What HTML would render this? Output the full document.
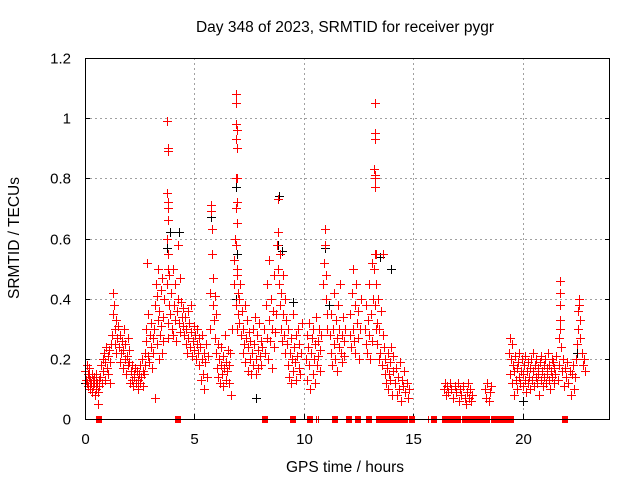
<!DOCTYPE html>
<html><head><meta charset="utf-8"><style>
html,body{margin:0;padding:0;background:#fff;}
svg{display:block;font-family:"Liberation Sans",sans-serif;}
</style></head><body>
<svg id="chart" width="640" height="480" viewBox="0 0 640 480" xmlns="http://www.w3.org/2000/svg" shape-rendering="crispEdges">
<rect x="0" y="0" width="640" height="480" fill="#fff"/>
<text x="345" y="32" font-size="15.5" text-anchor="middle" fill="#000">Day 348 of 2023, SRMTID for receiver pygr</text>
<g id="grid"></g>
<g id="ticks"></g>
<g id="blackpts"></g>
<g id="redpts"></g>
<g id="squares"></g>
<rect x="85.5" y="58.5" width="524" height="361" fill="none" stroke="#000" stroke-width="1"/>
<text x="345" y="472" font-size="15.5" text-anchor="middle" fill="#000">GPS time / hours</text>
<text x="19" y="238" font-size="15.5" text-anchor="middle" fill="#000" transform="rotate(-90 19 238)">SRMTID / TECUs</text>
</svg>
<script>
const xTicks=[0,5,10,15,20];
const yTicks=[0,0.2,0.4,0.6,0.8,1,1.2];
const yTickLabels=["0","0.2","0.4","0.6","0.8","1","1.2"];
const redPts=[[0.02,.16],[0.05,.13],[0.08,.18],[0.1,.12],[0.13,.15],[0.15,.11],[0.18,.14],[0.2,.17],[0.22,.1],[0.25,.13],[0.28,.12],[0.3,.15],[0.32,.09],[0.35,.13],[0.38,.11],[0.4,.14],[0.42,.12],[0.45,.08],[0.48,.13],[0.5,.1],[0.52,.15],[0.55,.12],[0.58,.09],[0.6,.05],[0.62,.13],[0.65,.11],
[0.7,.14],[0.73,.18],[0.76,.12],[0.8,.2],[0.83,.16],[0.86,.22],[0.9,.13],[0.93,.19],[0.96,.24],[1.0,.17],[1.03,.21],[1.06,.15],[1.1,.23],[1.13,.19],[1.16,.12],[1.2,.25],
[1.25,.28],[1.28,.35],[1.3,.42],[1.32,.38],[1.35,.3],[1.38,.25],[1.4,.33],[1.43,.22],[1.46,.27],[1.5,.31],
[1.55,.24],[1.58,.19],[1.62,.28],[1.65,.22],[1.68,.26],[1.72,.17],[1.75,.23],[1.78,.3],[1.82,.2],[1.85,.25],[1.88,.15],[1.92,.21],[1.95,.27],[1.98,.18],[2.0,.23],
[2.03,.19],[2.06,.12],[2.1,.16],[2.13,.13],[2.16,.18],[2.2,.11],[2.23,.15],[2.26,.14],[2.3,.17],[2.33,.12],[2.36,.16],[2.4,.13],[2.43,.1],[2.46,.15],[2.5,.18],[2.53,.12],[2.56,.14],[2.6,.2],[2.63,.16],[2.66,.11],[2.7,.15],
[2.72,.22],[2.75,.18],[2.78,.3],[2.8,.26],[2.83,.52],[2.86,.21],[2.9,.35],[2.93,.19],[2.96,.28],[3.0,.24],[3.03,.32],[3.06,.17],[3.1,.27],[3.13,.22],
[3.17,.3],[3.2,.38],[3.22,.07],[3.25,.45],[3.28,.25],[3.3,.41],[3.33,.5],[3.35,.33],[3.38,.2],[3.4,.36],[3.43,.28],[3.46,.43],[3.48,.31],[3.5,.22],[3.53,.47],[3.55,.34],[3.58,.26],[3.6,.4],
[3.76,.99],[3.78,.9],[3.79,.89],[3.77,.75],[3.8,.72],[3.78,.7],[3.81,.66],[3.77,.6],[3.79,.55],[3.8,.5],[3.76,.45],[3.82,.38],[3.78,.32],[3.8,.27],
[3.86,.48],[3.9,.35],[3.93,.42],[3.96,.3],[4.0,.5],[4.03,.28],[4.06,.38],[4.1,.33],[4.13,.45],[4.16,.26],[4.2,.36],[4.23,.58],[4.26,.4],[4.3,.32],[4.33,.47],[4.36,.29],[4.4,.39],[4.43,.34],[4.46,.31],[4.5,.37],
[4.53,.28],[4.56,.34],[4.6,.25],[4.63,.3],[4.66,.22],[4.7,.36],[4.73,.27],[4.76,.32],[4.8,.24],[4.83,.29],[4.86,.38],[4.9,.21],[4.93,.26],[4.96,.31],[5.0,.23],[5.03,.28],[5.06,.2],[5.1,.25],[5.13,.3],[5.16,.22],[5.2,.27],
[5.23,.18],[5.26,.24],[5.3,.13],[5.33,.2],[5.36,.28],[5.4,.15],[5.43,.22],[5.46,.1],[5.5,.19],[5.53,.25],[5.56,.14],[5.6,.21],
[5.7,.3],[5.73,.42],[5.75,.71],[5.77,.69],[5.8,.63],[5.82,.55],[5.85,.47],[5.87,.38],[5.9,.33],[5.93,.41],[5.95,.27],[5.97,.35],
[6.0,.22],[6.03,.17],[6.06,.25],[6.1,.14],[6.13,.2],[6.16,.12],[6.2,.18],[6.23,.24],[6.26,.15],[6.3,.21],[6.33,.11],[6.36,.17],[6.4,.28],[6.43,.13],[6.46,.19],[6.5,.16],[6.53,.23],[6.56,.12],[6.6,.18],[6.63,.22],[6.66,.08],[6.7,.3],
[6.8,.45],[6.83,.53],[6.86,.6],[6.88,1.08],[6.9,1.05],[6.92,.98],[6.93,.96],[6.91,.93],[6.94,.9],[6.9,.8],[6.93,.8],[6.95,.72],[6.92,.7],[6.96,.65],[6.89,.58],[6.97,.5],[6.95,.48],[6.98,.42],[6.91,.38],[7.0,.35],[6.94,.3],
[7.03,.4],[7.06,.32],[7.1,.45],[7.13,.28],[7.16,.36],[7.2,.22],[7.23,.3],[7.26,.25],[7.3,.38],[7.33,.19],[7.36,.27],[7.4,.33],[7.43,.16],[7.46,.24],[7.5,.29],[7.53,.2],[7.56,.26],[7.6,.15],
[7.63,.22],[7.66,.3],[7.7,.18],[7.73,.25],[7.76,.34],[7.8,.2],[7.83,.15],[7.86,.28],[7.9,.23],[7.93,.17],[7.96,.32],[8.0,.21],[8.03,.26],[8.06,.18],[8.1,.24],
[8.2,.3],[8.23,.22],[8.26,.38],[8.3,.27],[8.33,.45],[8.36,.2],[8.4,.33],[8.43,.53],[8.46,.26],[8.5,.4],[8.53,.3],[8.56,.17],[8.6,.36],[8.63,.24],[8.66,.48],[8.7,.29],[8.73,.35],
[8.77,.58],[8.8,.62],[8.82,.73],[8.84,.5],[8.87,.45],[8.9,.38],[8.92,.55],[8.95,.3],[8.98,.42],[9.0,.26],[9.03,.35],[9.06,.48],[9.1,.28],[9.13,.4],[9.16,.22],[9.2,.33],
[9.23,.25],[9.26,.18],[9.3,.3],[9.33,.14],[9.36,.22],[9.4,.27],[9.43,.12],[9.46,.2],[9.5,.35],[9.53,.16],[9.56,.24],[9.6,.19],[9.63,.28],[9.66,.13],[9.7,.21],[9.73,.3],[9.76,.17],[9.8,.25],[9.83,.15],[9.86,.22],[9.9,.32],
[10.1,.2],[10.13,.28],[10.16,.13],[10.2,.24],[10.23,.18],[10.26,.32],[10.3,.1],[10.33,.22],[10.36,.27],[10.4,.15],[10.43,.3],[10.46,.2],[10.5,.25],[10.53,.12],[10.56,.34],[10.6,.18],[10.63,.26],[10.66,.21],[10.7,.3],[10.73,.16],[10.76,.23],[10.8,.28],
[10.9,.45],[10.93,.52],[10.95,.63],[10.97,.58],[11.0,.48],[11.02,.4],[11.05,.35],[11.08,.3],
[11.2,.28],[11.23,.22],[11.26,.35],[11.3,.18],[11.33,.3],[11.36,.42],[11.4,.25],[11.43,.2],[11.46,.33],[11.5,.27],[11.53,.16],[11.56,.38],[11.6,.24],[11.63,.3],[11.66,.45],[11.7,.22],[11.73,.28],[11.76,.19],[11.8,.34],[11.83,.26],[11.86,.21],[11.9,.3],
[12.1,.28],[12.13,.35],[12.16,.24],[12.2,.42],[12.23,.3],[12.26,.5],[12.3,.26],[12.33,.38],[12.36,.22],[12.4,.45],[12.43,.32],[12.46,.27],[12.5,.36],[12.53,.2],[12.56,.3],[12.6,.4],
[12.8,.3],[12.83,.25],[12.86,.38],[12.9,.22],[12.93,.33],[12.96,.28],[13.0,.45],[13.03,.2],[13.06,.35],[13.1,.52],[13.13,.26],[13.16,.4],
[13.24,1.05],[13.25,.95],[13.27,.93],[13.23,.83],[13.26,.81],[13.25,.8],[13.24,.77],[13.27,.55],[13.22,.5],[13.28,.45],[13.25,.38],[13.3,.3],[13.29,.55],
[13.33,.32],[13.36,.25],[13.4,.4],[13.43,.2],[13.46,.3],[13.5,.22],[13.53,.36],[13.56,.18],[13.6,.28],[13.63,.55],[13.66,.24],[13.7,.15],
[13.73,.2],[13.76,.12],[13.8,.17],[13.83,.22],[13.86,.1],[13.9,.15],[13.93,.19],[13.96,.13],[14.0,.24],[14.03,.08],[14.06,.16],[14.1,.21],
[14.15,.12],[14.2,.17],[14.25,.08],[14.3,.14],[14.35,.1],[14.4,.19],[14.45,.06],[14.5,.13],[14.55,.11],[14.6,.16],[14.65,.09],[14.7,.12],[14.75,.07],[14.8,.1],
[16.4,.1],[16.45,.12],[16.5,.08],[16.55,.11],[16.6,.09],[16.7,.12],[16.75,.1],[16.8,.07],[16.9,.11],[16.95,.09],[17.05,.12],[17.1,.06],[17.15,.1],[17.2,.08],[17.3,.11],[17.35,.07],[17.4,.05],[17.45,.09],[17.5,.12],[17.55,.07],[17.6,.1],[17.65,.06],[17.7,.08],[18.3,.1],[18.35,.07],[18.4,.12],[18.45,.06],[18.5,.09],[18.55,.11],
[19.4,.22],[19.42,.27],[19.45,.15],[19.48,.2],[19.5,.25],[19.53,.12],[19.56,.18],[19.6,.08],[19.63,.16],[19.66,.21],[19.7,.13],[19.73,.17],[19.76,.1],[19.8,.19],[19.83,.14],[19.86,.22],[19.9,.12],[19.93,.16],[19.96,.2],[20.0,.11],[20.03,.15],[20.06,.18],[20.1,.13],[20.13,.21],[20.16,.09],[20.2,.16],[20.23,.12],[20.26,.19],[20.3,.14],[20.33,.17],[20.36,.1],[20.4,.2],[20.43,.13],[20.46,.16],[20.5,.22],[20.53,.11],[20.56,.18],[20.6,.14],[20.63,.2],[20.66,.12],[20.7,.17],[20.73,.15],[20.76,.08],[20.8,.19],[20.83,.13],[20.86,.21],[20.9,.16],[20.93,.11],[20.96,.18],[21.0,.14],[21.03,.2],[21.06,.12],[21.1,.17],[21.13,.15],[21.16,.22],[21.2,.13],[21.23,.18],[21.26,.1],[21.3,.16],[21.33,.2],[21.36,.14],[21.4,.19],[21.43,.12],[21.46,.17],[21.5,.15],[21.55,.21],[21.6,.13],[21.65,.18],[21.7,.46],[21.71,.42],[21.72,.38],[21.7,.33],[21.73,.3],[21.68,.27],[21.75,.24],[21.8,.16],[21.85,.2],[21.9,.11],[21.95,.17],[22.0,.14],[22.05,.19],[22.1,.12],[22.15,.16],[22.2,.08],[22.25,.15],[22.3,.18],[22.35,.1],[22.4,.14],[22.45,.2],[22.5,.25],[22.52,.3],[22.55,.36],[22.57,.4],[22.6,.38],[22.62,.33],[22.65,.27],[22.7,.22],[22.75,.18],[22.8,.2],[22.85,.16]];
const blackPts=[[3.77,.57],[3.9,.62],[4.3,.62],[5.75,.67],[6.92,.77],[6.95,.55],[8.85,.74],[8.8,.58],[9.0,.56],[9.5,.39],[10.95,.57],[11.15,.38],[13.25,.55],[13.5,.54],[13.97,.5],[20.0,.06],[22.5,.22],[6.9,.4],[0.0,.12],[7.8,.07]];
const gapHours=[0.62,4.27,8.22,9.51,10.29,11.45,12.06,12.46,12.96,13.42,13.5,13.58,13.66,13.74,13.82,13.9,14.12,14.2,14.28,14.36,14.44,14.52,14.6,14.65,14.93,15.94,16.46,16.53,16.59,16.8,17.03,17.36,17.43,17.5,17.57,17.64,17.71,17.78,17.86,18.06,18.13,18.2,18.27,18.34,18.4,18.71,18.98,19.24,19.32,19.4,19.49,21.95];
const thinGapHours=[10.57,10.65,15.68];

const NS="http://www.w3.org/2000/svg";
const X0=85,X1=610,Y0=419,Y1=58,XMAX=24,YMAX=1.2;
function sx(h){return X0+(h/XMAX)*(X1-X0);}
function sy(v){return Y0-(v/YMAX)*(Y0-Y1);}
function mk(tag,attrs,parent){const e=document.createElementNS(NS,tag);for(const k in attrs)e.setAttribute(k,attrs[k]);parent.appendChild(e);return e;}
const grid=document.getElementById('grid'),ticks=document.getElementById('ticks');
xTicks.forEach(function(t){
  const x=Math.round(sx(t))+0.5;
  if(t>0){const g=mk('line',{x1:x,y1:Y1,x2:x,y2:Y0,stroke:'#a0a0a0','stroke-dasharray':'2,3'},grid);
  
  }
  const tk=mk('line',{x1:x,y1:Y0,x2:x,y2:Y0-5,stroke:'#000'},ticks);
  
  
  const lb=mk('text',{x:x,y:444,'font-size':15,'text-anchor':'middle',fill:'#000'},ticks);
  lb.textContent=String(t);
  
  
});
yTicks.forEach(function(v,i){
  const y=Math.round(sy(v))+0.5;
  if(v>0&&v<YMAX){const g=mk('line',{x1:X0,y1:y,x2:X1,y2:y,stroke:'#a0a0a0','stroke-dasharray':'2,3'},grid);
  
  }
  const tk=mk('line',{x1:X0,y1:y,x2:X0+5,y2:y,stroke:'#000'},ticks);
  
  
  const tk2=mk('line',{x1:X1,y1:y,x2:X1-5,y2:y,stroke:'#000'},ticks);
  
  
  const lb=mk('text',{x:71,y:y+5,'font-size':15,'text-anchor':'end',fill:'#000'},ticks);
  lb.textContent=yTickLabels[i];
  
  
});
function plus(p,color,parent,name){
  const x=Math.round(sx(p[0])),y=Math.round(sy(p[1]));
  const g=mk('g',{fill:color},parent);
  
  
  mk('rect',{x:x-4,y:y,width:9,height:1},g);
  mk('rect',{x:x,y:y-4,width:1,height:9},g);
}
const bg=document.getElementById('blackpts'),rg=document.getElementById('redpts'),sg=document.getElementById('squares');
blackPts.forEach(function(p){plus(p,'#000000',bg,'black-point');});
redPts.forEach(function(p){plus(p,'#ff0000',rg,'red-point');});
gapHours.forEach(function(h){
  const r=mk('rect',{x:Math.round(sx(h))-3,y:Y0-3,width:6,height:7,fill:'#ff0000'},sg);
  
  
});
thinGapHours.forEach(function(h){
  const r=mk('rect',{x:Math.round(sx(h)),y:Y0-3,width:1,height:7,fill:'#ff0000'},sg);
  
  
});
</script>
</body></html>
